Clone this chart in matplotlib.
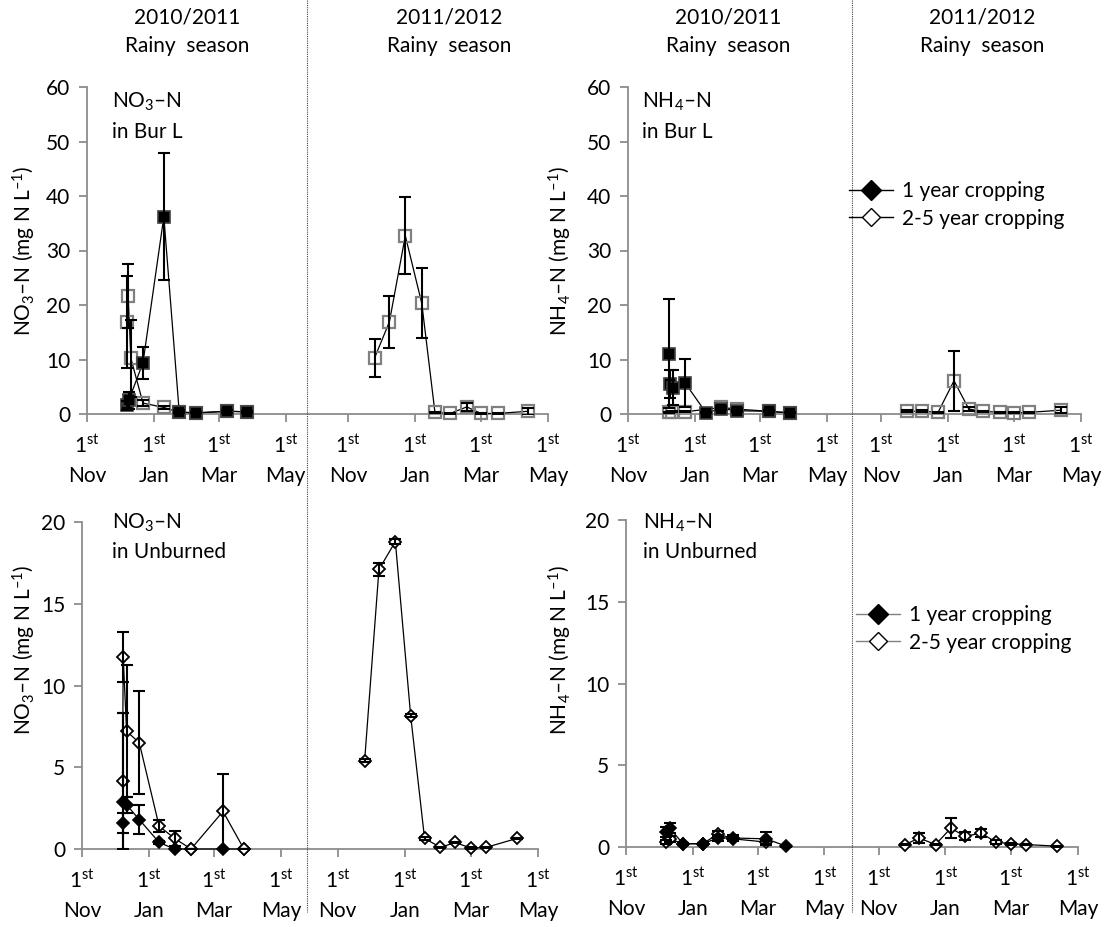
import matplotlib
matplotlib.use("Agg")
from matplotlib import pyplot as plt
from matplotlib.lines import Line2D

plt.rcParams['font.family'] = ['Lato', 'DejaVu Sans']
plt.rcParams['mathtext.fontset'] = 'custom'
plt.rcParams['mathtext.rm'] = 'Lato'
plt.rcParams['mathtext.it'] = 'Lato:italic'
plt.rcParams['font.size'] = 15

# days since 1st Nov of each rainy season
# NO3-N, burned (Bur L)
no3_bur_s1_1yr_day = [36, 38, 51, 70, 84, 99, 128, 146]
no3_bur_s1_1yr_val = [1.6, 2.5, 9.4, 36.2, 0.4, 0.2, 0.5, 0.4]
no3_bur_s1_1yr_sd = [0.8, 1.5, 2.9, 11.6, 0.3, 0.1, 0.3, 0.2]
no3_bur_s1_25yr_day = [36, 37.5, 40, 51, 70, 84, 99, 128, 146]
no3_bur_s1_25yr_val = [16.9, 21.6, 10.2, 2.0, 1.2, 0.3, 0.2, 0.5, 0.4]
no3_bur_s1_25yr_sd = [8.5, 5.9, 7.0, 0.5, 0.3, 0.1, 0.1, 0.3, 0.2]
no3_bur_s2_25yr_day = [24, 37.5, 52, 67, 79, 93, 108, 121, 136, 164]
no3_bur_s2_25yr_val = [10.3, 16.9, 32.7, 20.3, 0.3, 0.1, 1.3, 0.1, 0.1, 0.5]
no3_bur_s2_25yr_sd = [3.5, 4.8, 7.1, 6.4, 0.1, 0.1, 0.8, 0.1, 0.1, 0.6]

# NH4-N, burned (Bur L)
nh4_bur_s1_1yr_day = [37, 38, 41, 52, 71, 85, 99, 128, 147]
nh4_bur_s1_1yr_val = [11.1, 5.5, 4.8, 5.7, 0.2, 1.0, 0.6, 0.5, 0.2]
nh4_bur_s1_1yr_sd = [10.0, 2.6, 3.2, 4.4, 0.1, 0.3, 0.3, 0.2, 0.1]
nh4_bur_s1_25yr_day = [37, 40, 52, 85, 99, 128, 147]
nh4_bur_s1_25yr_val = [0.3, 0.4, 0.4, 1.2, 0.9, 0.5, 0.2]
nh4_bur_s1_25yr_sd = [0.1, 0.1, 0.1, 0.3, 0.2, 0.1, 0.1]
nh4_bur_s2_25yr_day = [24, 37.5, 52, 66.5, 80, 93, 108, 121, 135, 163.5]
nh4_bur_s2_25yr_val = [0.5, 0.5, 0.3, 6.1, 0.9, 0.5, 0.3, 0.2, 0.3, 0.7]
nh4_bur_s2_25yr_sd = [0.2, 0.2, 0.1, 5.5, 0.3, 0.1, 0.1, 0.1, 0.1, 0.5]

# NO3-N, unburned
no3_unb_s1_1yr_day = [36.8, 37.4, 40.5, 52, 70, 84, 99, 128, 147]
no3_unb_s1_1yr_val = [1.6, 2.9, 2.7, 1.8, 0.4, 0.0, 0.0, 0.0, 0.0]
no3_unb_s1_1yr_sd = [0.6, 5.4, 0.5, 0.9, 0.1, 0.0, 0.0, 0.0, 0.0]
no3_unb_s1_25yr_day = [36.8, 37.4, 40.5, 52, 70, 84, 99, 128, 147]
no3_unb_s1_25yr_val = [4.15, 11.75, 7.2, 6.5, 1.4, 0.65, 0.0, 2.3, 0.0]
no3_unb_s1_25yr_sd = [4.15, 1.55, 4.05, 3.15, 0.35, 0.45, 0.0, 2.3, 0.0]
no3_unb_s2_25yr_day = [24.6, 37.6, 52.5, 66.4, 79, 93.4, 107, 121, 135, 163]
no3_unb_s2_25yr_val = [5.4, 17.1, 18.8, 8.15, 0.65, 0.1, 0.4, 0.05, 0.1, 0.65]
no3_unb_s2_25yr_sd = [0.1, 0.4, 0.15, 0.1, 0.1, 0.05, 0.05, 0.05, 0.05, 0.05]

# NH4-N, unburned
nh4_unb_s1_1yr_day = [36.4, 40, 52, 70, 84, 97.6, 128, 146]
nh4_unb_s1_1yr_val = [0.9, 1.15, 0.2, 0.2, 0.55, 0.55, 0.5, 0.05]
nh4_unb_s1_1yr_sd = [0.3, 0.3, 0.05, 0.05, 0.2, 0.2, 0.4, 0.02]
nh4_unb_s1_25yr_day = [36.4, 40, 52, 70, 84, 97.6, 128]
nh4_unb_s1_25yr_val = [0.3, 0.5, 0.2, 0.2, 0.8, 0.5, 0.3]
nh4_unb_s1_25yr_sd = [0.1, 0.2, 0.05, 0.05, 0.2, 0.1, 0.1]
nh4_unb_s2_25yr_day = [24.4, 37, 52, 66, 79, 93.7, 107, 121, 135, 163]
nh4_unb_s2_25yr_val = [0.15, 0.55, 0.15, 1.15, 0.65, 0.85, 0.3, 0.2, 0.15, 0.05]
nh4_unb_s2_25yr_sd = [0.05, 0.3, 0.05, 0.6, 0.25, 0.25, 0.1, 0.05, 0.05, 0.02]

tick_days_s1 = [0, 61, 120, 181]
tick_days_s2 = [0, 61, 121, 182]
months = ['Nov', 'Jan', 'Mar', 'May']
seasons = ['2010/2011', '2011/2012']
series_names = ['1 year cropping', '2-5 year cropping']

W, H = 1112, 927
fig = plt.figure(figsize=(W / 100, H / 100), dpi=100)
GRAY = '#8c8c8c'


def make_axes(left, right, y0, ytop, ymax, yticks, off):
    ax = fig.add_axes([left / W, 1 - y0 / H, (right - left) / W, (y0 - ytop) / H])
    ax.set_xlim(0, off + 182)
    ax.set_ylim(0, ymax)
    for s in ['top', 'right']:
        ax.spines[s].set_visible(False)
    for s in ['left', 'bottom']:
        ax.spines[s].set_color(GRAY)
        ax.spines[s].set_linewidth(1.3)
    ax.set_yticks(yticks)
    ticks = tick_days_s1 + [off + d for d in tick_days_s2]
    ax.set_xticks(ticks)
    ax.set_xticklabels(['1$^{\\mathregular{st}}$\n' + m for m in months * 2], linespacing=1.55)
    ax.tick_params(axis='x', direction='out', length=6, width=1.3, color=GRAY, pad=9, labelsize=15)
    ax.tick_params(axis='y', direction='out', length=6, width=1.3, color=GRAY, pad=6, labelsize=15)
    ax.patch.set_visible(False)
    return ax


def draw(ax, day, val, sd, off, marker, ms, mfc, mec, mew):
    x = [d + off for d in day]
    ax.plot(x, val, '-', color='black', lw=0.9, marker=marker, ms=ms, mfc=mfc, mec=mec,
            mew=mew, clip_on=False, zorder=3)
    ax.errorbar(x, val, yerr=sd, fmt='none', ecolor='black', elinewidth=1.5, capsize=4.5,
                capthick=1.5, zorder=4)


# top row: squares
ax1 = make_axes(87, 548, 414, 87, 60, range(0, 61, 10), 238)
ax2 = make_axes(628, 1081, 414, 87, 60, range(0, 61, 10), 230)
sq1 = dict(marker='s', ms=8.5, mfc='black', mec='#404040', mew=1.2)
sq2 = dict(marker='s', ms=8, mfc='none', mec='#808080', mew=1.6)
draw(ax1, no3_bur_s1_25yr_day, no3_bur_s1_25yr_val, no3_bur_s1_25yr_sd, 0, **sq2)
draw(ax1, no3_bur_s1_1yr_day, no3_bur_s1_1yr_val, no3_bur_s1_1yr_sd, 0, **sq1)
draw(ax1, no3_bur_s2_25yr_day, no3_bur_s2_25yr_val, no3_bur_s2_25yr_sd, 238, **sq2)
draw(ax2, nh4_bur_s1_25yr_day, nh4_bur_s1_25yr_val, nh4_bur_s1_25yr_sd, 0, **sq2)
draw(ax2, nh4_bur_s1_1yr_day, nh4_bur_s1_1yr_val, nh4_bur_s1_1yr_sd, 0, **sq1)
draw(ax2, nh4_bur_s2_25yr_day, nh4_bur_s2_25yr_val, nh4_bur_s2_25yr_sd, 230, **sq2)

# bottom row: diamonds
ax3 = make_axes(82, 538, 849, 522, 20, range(0, 21, 5), 232)
ax4 = make_axes(626, 1078, 847, 520, 20, range(0, 21, 5), 230.4)
dm1 = dict(marker='D', ms=6.5, mfc='black', mec='black', mew=1.2)
dm2 = dict(marker='D', ms=6.3, mfc='white', mec='black', mew=1.3)
draw(ax3, no3_unb_s1_1yr_day, no3_unb_s1_1yr_val, no3_unb_s1_1yr_sd, 0, **dm1)
draw(ax3, no3_unb_s1_25yr_day, no3_unb_s1_25yr_val, no3_unb_s1_25yr_sd, 0, **dm2)
draw(ax3, no3_unb_s2_25yr_day, no3_unb_s2_25yr_val, no3_unb_s2_25yr_sd, 232, **dm2)
draw(ax4, nh4_unb_s1_25yr_day, nh4_unb_s1_25yr_val, nh4_unb_s1_25yr_sd, 0, **dm2)
draw(ax4, nh4_unb_s1_1yr_day, nh4_unb_s1_1yr_val, nh4_unb_s1_1yr_sd, 0, **dm1)
draw(ax4, nh4_unb_s2_25yr_day, nh4_unb_s2_25yr_val, nh4_unb_s2_25yr_sd, 230.4, **dm2)


def ftext(x, y, s, **kw):
    fig.text(x / W, 1 - y / H, s, **kw)


# season headers
for cx, season in zip([187, 449, 728, 982], seasons * 2):
    ftext(cx, 18, season, ha='center', va='center', fontsize=15)
    ftext(cx, 46, 'Rainy  season', ha='center', va='center', fontsize=15)

# y labels
no3_lab = 'NO$_{\\mathregular{3}}$–N (mg N L$^{\\mathregular{–1}}$)'
nh4_lab = 'NH$_{\\mathregular{4}}$–N (mg N L$^{\\mathregular{–1}}$)'
ftext(24, 251, no3_lab, rotation=90, ha='center', va='center', fontsize=15)
ftext(560, 251, nh4_lab, rotation=90, ha='center', va='center', fontsize=15)
ftext(24, 650, no3_lab, rotation=90, ha='center', va='center', fontsize=15)
ftext(560, 650, nh4_lab, rotation=90, ha='center', va='center', fontsize=15)

# panel notes
ftext(112, 102, 'NO$_{\\mathregular{3}}$–N', ha='left', va='center', fontsize=15)
ftext(112, 132, 'in Bur L', ha='left', va='center', fontsize=15)
ftext(642, 102, 'NH$_{\\mathregular{4}}$–N', ha='left', va='center', fontsize=15)
ftext(642, 132, 'in Bur L', ha='left', va='center', fontsize=15)
ftext(112, 523, 'NO$_{\\mathregular{3}}$–N', ha='left', va='center', fontsize=15)
ftext(112, 552, 'in Unburned', ha='left', va='center', fontsize=15)
ftext(643, 523, 'NH$_{\\mathregular{4}}$–N', ha='left', va='center', fontsize=15)
ftext(643, 552, 'in Unburned', ha='left', va='center', fontsize=15)

# dotted season separators
for xd in [307, 852]:
    fig.add_artist(Line2D([xd / W, xd / W], [1.0, 1 - 912 / H], transform=fig.transFigure,
                          ls=(0, (1, 1)), color='#444444', lw=0.8))

# legends
for lc, ycen in [('black', 205), ('#808080', 629)]:
    handles = [Line2D([], [], color=lc, lw=1.0, marker='D', ms=10, mfc='black', mec='black'),
               Line2D([], [], color=lc, lw=1.0, marker='D', ms=9.5, mfc='white', mec='black', mew=1.0)]
    xl = 849 if ycen < 400 else 856
    fig.legend(handles, series_names, loc='center left', bbox_to_anchor=(xl / W, 1 - ycen / H),
               bbox_transform=fig.transFigure, frameon=False, fontsize=15, handlelength=2.1,
               handletextpad=0.45, labelspacing=0.35, borderpad=0, borderaxespad=0, numpoints=1)

fig.savefig('out.png', dpi=100)
